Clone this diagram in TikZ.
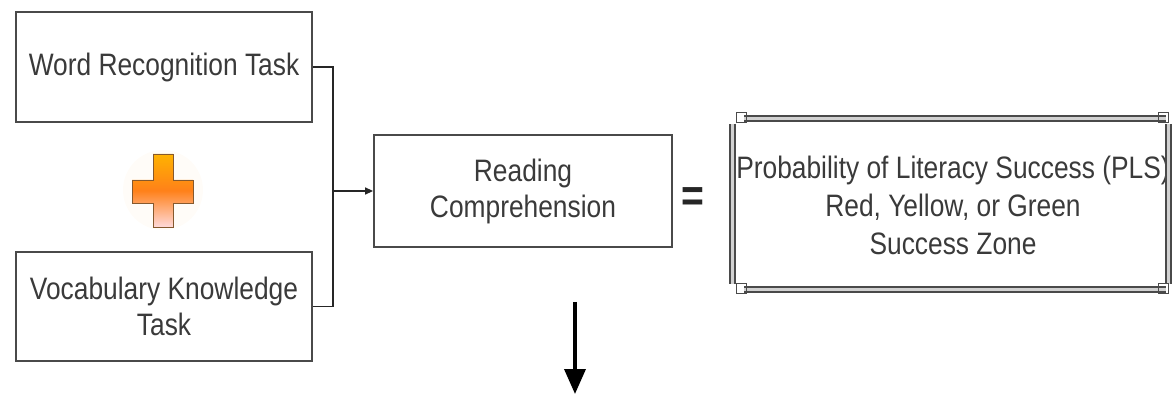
\documentclass[tikz,border=0pt]{standalone}
\usepackage{fontspec}
\setmainfont{Liberation Sans}[FakeStretch=0.85]
\usetikzlibrary{arrows.meta,shadings}
\definecolor{txt}{HTML}{3A3A3A}
\definecolor{bord}{HTML}{4A4A4A}
\tikzset{
  taskbox/.style={draw=bord, line width=1.8pt, inner sep=0pt, text=txt, align=center, font=\fontsize{31}{36}\selectfont},
  conn/.style={draw=black!85, line width=1.3pt},
  band/.style={draw=bord, line width=1.7pt, double=black!18, double distance=3.5pt},
}
\begin{document}
\begin{tikzpicture}[x=1pt,y=-1pt]
\useasboundingbox (0,0) rectangle (1175,395);
% task boxes
\node[taskbox, minimum width=296pt, minimum height=110pt] (wr) at (164,67) {Word Recognition Task};
\node[taskbox, minimum width=296pt, minimum height=109pt] (vk) at (164,306.5) {Vocabulary Knowledge\\Task};
\node[taskbox, minimum width=298pt, minimum height=112pt] (rc) at (523,191) {Reading\\Comprehension};
% PLS box
\node[inner sep=0pt, minimum width=440pt, minimum height=184pt, text=txt, align=center, font=\fontsize{31}{38}\selectfont] (pls) at (953,205) {Probability of Literacy Success (PLS)\\Red, Yellow, or Green\\Success Zone};
\draw[band] (744,118.5) -- (1166,118.5);
\draw[band] (744,289.5) -- (1166,289.5);
\draw[band] (732.5,124) -- (732.5,284);
\draw[band] (1168.5,124) -- (1168.5,284);
\foreach \cx/\cy in {740/114, 1162/114, 740/285, 1162/285}{
  \draw[bord, line width=0.9pt] (\cx-4,\cy-2) rectangle (\cx+6,\cy+8);
}
% plus sign
\node[circle, fill=orange!5, minimum size=80pt, opacity=0.5] (glow) at (163,190) {};
\shade[top color=orange!60!yellow, bottom color=red!15!white, middle color=orange!90!red!90!white, draw=brown!70!black, line width=0.6pt]
  (153,154) -- (173,154) -- (173,180) -- (193,180) -- (193,203) -- (173,203) -- (173,227) -- (153,227) -- (153,203) -- (132,203) -- (132,180) -- (153,180) -- cycle;
% connectors
\coordinate (j) at (333,191);
\draw[conn] (wr.east) -| (j);
\draw[conn] (vk.east) -| (j);
\draw[conn, -{Triangle[width=7pt,length=8pt]}] (j) -- (rc.west);
% equals
\node[font=\bfseries\fontsize{46}{46}\selectfont, text=black!85] (eq) at (693,199.5) {=};
% down arrow
\coordinate (a1) at (575,302);
\coordinate (a2) at (575,394);
\draw[black, line width=3.6pt, -{Triangle[width=21pt,length=25pt]}] (a1) -- (a2);
\end{tikzpicture}
\end{document}
